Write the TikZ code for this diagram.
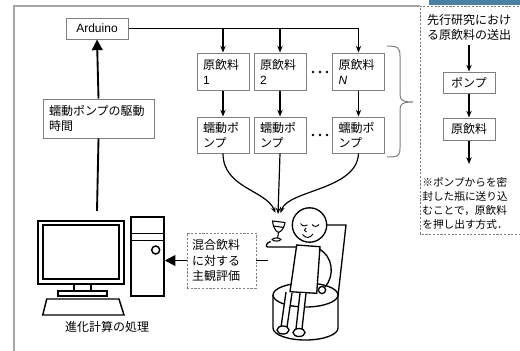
\documentclass[tikz,border=0pt]{standalone}
\usepackage{fontspec}
\setmainfont{Liberation Sans}
\newfontfamily\jp{Noto Sans CJK JP}
\usetikzlibrary{arrows.meta}
\definecolor{boxgray}{HTML}{7F7F7F}
\definecolor{framegray}{HTML}{A6A6A6}
\definecolor{dashgray}{HTML}{808080}
\definecolor{barblue}{HTML}{4A81A3}

\begin{document}
\begin{tikzpicture}[x=0.75pt,y=-0.75pt,
  jpfont/.style={font=\fontsize{9pt}{11.25pt}\selectfont\jp},
  notefont/.style={font=\fontsize{8pt}{10.7pt}\selectfont\jp},
  box/.style={draw=boxgray, line width=0.75pt, fill=white, inner ysep=0pt, inner xsep=4.5pt, jpfont},
  tallbox/.style={box, align=left, minimum width=39pt, text width=30pt, minimum height=#1},
  dashbox/.style={draw=dashgray, line width=0.6pt, dash pattern=on 1.6pt off 1.2pt},
  conn/.style={line width=1.1pt},
  arr/.style={conn, -{Stealth[length=5pt,width=4pt]}},
  thinarr/.style={line width=0.9pt, -{Stealth[length=4.5pt,width=3.5pt]}},
  bigarr/.style={line width=1.4pt, -{Triangle[length=8pt,width=8pt]}},
  figure/.style={line width=1pt, fill=white},
  pc/.style={line width=1.1pt},
]
\useasboundingbox (0,0) rectangle (520,350);

% page frame and header bar
\draw[framegray, line width=1.1pt] (14,352) -- (14,6) -- (420,6);
\fill[barblue] (429,0) rectangle (520,4.5);

% controller
\node[box, font=\fontsize{9pt}{11pt}\selectfont, minimum width=46.5pt, minimum height=15.75pt] (ard) at (97,28.5) {Arduino};
\node[box, align=left, minimum width=83.25pt, text width=74.25pt, minimum height=29.25pt] (drv) at (98.5,118.5) {蠕動ポンプの駆動\\時間};

% raw beverages and pumps
\node[tallbox=27.75pt] (raw1) at (223,71.5) {原飲料\\{\rmfamily 1}};
\node[tallbox=27.75pt] (raw2) at (280,71.5) {原飲料\\{\rmfamily 2}};
\node[tallbox=27.75pt] (rawN) at (358.5,71.5) {原飲料\\{\rmfamily\itshape N}};
\node[tallbox=27pt] (pump1) at (223,135) {蠕動ポ\\ンプ};
\node[tallbox=27pt] (pump2) at (280,135) {蠕動ポ\\ンプ};
\node[tallbox=27pt] (pumpN) at (358.5,135) {蠕動ポ\\ンプ};
\foreach \yy in {72,135}
  \foreach \xx in {313,320,327}
    \fill (\xx,\yy) circle[radius=0.95pt];

% control lines
\draw[arr] (ard.east) -| (rawN.north);
\draw[arr] (raw1.north |- ard.east) -- (raw1.north);
\draw[arr] (raw2.north |- ard.east) -- (raw2.north);
\draw[arr] (raw1) -- (pump1);
\draw[arr] (raw2) -- (pump2);
\draw[arr] (rawN) -- (pumpN);
\draw[bigarr] (drv.north) -- (ard.south);

% brace
\draw[boxgray, line width=0.75pt] (387,46) .. controls (398,46) and (400,48) .. (400,56) -- (400,94)
  .. controls (400,100) and (402,102) .. (413,102) .. controls (402,102) and (400,104) .. (400,110)
  -- (400,148) .. controls (400,156) and (398,157) .. (387,157);

% right panel
\draw[dashbox] (530,6) -- (420,6) -- (420,234) -- (530,234);
\node[jpfont, align=left, inner sep=0pt] (prior) at (469,27.5) {先行研究におけ\\る原飲料の送出};
\node[box, minimum width=39pt, minimum height=15.75pt] (pumpR) at (469,82.5) {ポンプ};
\node[box, minimum width=39pt, minimum height=16.5pt] (rawR) at (469,129) {原飲料};
\coordinate (outR) at (469,164);
\draw[arr] (prior.south |- 0,45) -- (pumpR.north);
\draw[arr] (pumpR) -- (rawR);
\draw[arr] (rawR) -- (outR);
\node[notefont, align=left, inner sep=0pt] (note) at (465,203.5) {※ポンプからを密\\封した瓶に送り込\\むことで，原飲料\\を押し出す方式．};

% computer
\begin{scope}[pc]
  \draw (38,221) rectangle (124,284);
  \draw (43,225) rectangle (119,279);
  \draw (74,284) rectangle (91,291);
  \draw (58,291) rectangle (107,296);
  \draw (46.7,299) -- (119,299) -- (124,315) -- (42.7,315) -- cycle;
  \node[draw, line width=1.1pt, minimum width=24.75pt, minimum height=59.25pt, inner sep=0pt] (tower) at (147.5,256.5) {};
  \draw (131,233.5) -- (164,233.5);
  \draw (131,240.5) -- (164,240.5);
  \draw (155.7,250) circle[radius=3pt];
\end{scope}
\node[jpfont] (pclabel) at (107,327) {進化計算の処理};
\coordinate (pctop) at (97,211);
\draw[line width=1.4pt] (pctop) -- (drv.south);

% subjective rating
\node[dashbox, jpfont, align=left, minimum width=51.75pt, text width=44.25pt, inner xsep=3.75pt, minimum height=41.25pt, font=\fontsize{9pt}{11.6pt}\selectfont\jp] (eval) at (221.5,260.5) {混合飲料\\に対する\\主観評価};
\coordinate (sitter) at (268,260.5);
\draw[conn] (sitter) -- (eval.east);
\draw[bigarr] (eval.west) -- (tower.east |- eval.west);

% mixing: pumps into the glass
\coordinate (g1) at (275.5,213);
\coordinate (g2) at (278,214);
\coordinate (g3) at (280.5,213);
\draw[thinarr] (pump1.south) .. controls (223,188) and (266,190) .. (g1);
\draw[thinarr] (pump2.south) -- (g2);
\draw[thinarr] (pumpN.south) .. controls (357,190) and (288,190) .. (g3);

% seated person
\begin{scope}[line width=1pt]
  % chair back
  \draw (326,225) -- (346,225) -- (338,296);
  % stool
  \draw[fill=white] (273,295) -- (273,328) arc[start angle=180, end angle=360, x radius=24.4pt, y radius=9pt] -- (338,295);
  \draw[fill=white] (305.5,295) ellipse[x radius=24.4pt, y radius=9pt];
  % torso
  \draw[fill=white] (296.7,245) -- (320,246.7) -- (316.7,293.3) -- (290,291.7) -- cycle;
  % far arm
  \draw (319,249) .. controls (333,256) and (335,276) .. (325,287);
  \draw[fill=white] (322,290) circle[radius=2.7pt];
  % legs and feet
  \draw[fill=white] (286,292) -- (281,327) -- (287,327) -- (292,293);
  \draw[fill=white] (300,293) -- (296,329) -- (302,329) -- (306,293);
  \draw[fill=white] (283,330) ellipse[x radius=4.5pt, y radius=3pt];
  \draw[fill=white] (299,332.5) ellipse[x radius=4.5pt, y radius=3pt];
  % head and face
  \draw[fill=white] (309.5,225) circle[radius=12.9pt];
  \draw[line width=0.7pt] (300.5,223.5) .. controls (302.5,226.5) and (305.5,226.5) .. (307.5,225);
  \draw[line width=0.7pt] (312,224.5) .. controls (314,227) and (317,227) .. (319,224.5);
  \draw[line width=0.7pt] (306,228) .. controls (304,230.5) .. (306.5,232);
  \draw[line width=0.7pt] (302.5,234.5) .. controls (305.5,238.5) and (310,238.5) .. (313,234);
  % glass
  \draw[line width=0.8pt, fill=white] (272.5,221) -- (285,222.5) .. controls (284,228) and (282,231) .. (278.5,232.5)
     .. controls (275,231) and (273,226) .. cycle;
  \draw[line width=0.8pt] (273.5,226) -- (284,227.5);
  \draw[line width=0.8pt] (278.5,232.5) -- (277.5,238.5);
  \draw[line width=0.8pt, fill=white] (276.5,239.5) ellipse[x radius=3.2pt, y radius=1.2pt];
  % near arm holding the glass
  \draw (296.7,247) -- (268,247) .. controls (265,247) and (266,243) .. (270.5,241.5);
\end{scope}
\end{tikzpicture}
\end{document}
